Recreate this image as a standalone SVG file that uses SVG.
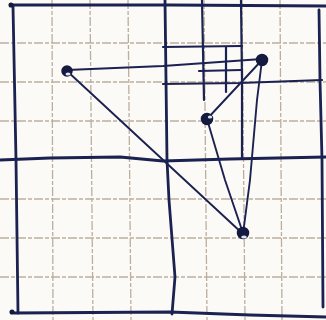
<svg xmlns="http://www.w3.org/2000/svg" width="326" height="320" viewBox="0 0 326 320">
  <style>
    .grid { stroke: #bcae9f; stroke-width: 1.3; fill: none; stroke-dasharray: 9 2 4 2; }
    .ink { stroke: #1b2150; stroke-width: 2.8; fill: none; stroke-linecap: round; stroke-linejoin: round; }
    .thin { stroke: #1b2150; stroke-width: 2.2; fill: none; stroke-linecap: round; stroke-linejoin: round; }
    .edge { stroke: #1b2150; stroke-width: 1.9; fill: none; stroke-linecap: round; }
    .dot { fill: #151a40; stroke: #151a40; stroke-width: 1.5; }
    .shine { fill: #dfe4f2; }
  </style>
  <rect width="326" height="320" fill="#fbfaf6"/>
  <g id="grid">
    <path class="grid" d="M52 0 L53 320 M90 0 L93 320 M128 0 L131 320 M204 0 L207 320 M242 0 L245 320 M280 0 L282 320"/>
    <path class="grid" d="M0 43 L326 43 M0 82 L326 82 M0 121 L326 121 M0 199 L326 199 M0 238 L326 238 M0 277 L326 277"/>
  </g>
  <g id="frame">
    <path class="ink" d="M11 5 L170 5 L326 6"/>
    <path class="ink" d="M13 6 L16 160 L18 313"/>
    <path class="ink" d="M319 10 L320 80 L322 160 L323 307"/>
    <path class="ink" d="M14 313 L170 312 L250 315 L326 317"/>
    <path class="ink" d="M165 0 L167 160 L169 200 L175 277 L172 314"/>
    <path class="ink" d="M0 160 L50 158 L120 157 L163 161 L230 159 L326 157"/>
    <circle cx="11" cy="5" r="1.8" class="dot"/>
    <circle cx="12" cy="312" r="1.8" class="dot"/>
  </g>
  <g id="inner">
    <path class="thin" d="M163 84 L240 83 L322 80"/>
    <path class="thin" d="M163 47 L242 46"/>
    <path class="thin" d="M202 0 L203 50 L204 100"/>
    <path class="thin" d="M241 0 L242 80 L242 158"/>
    <path class="thin" d="M226 47 L226 92"/>
    <path class="thin" d="M199 71 L241 70"/>
  </g>
  <g id="connectors">
    <path class="edge" d="M67 70 Q120 68 163 66 L262 59"/>
    <path class="edge" d="M262 60 L207 119"/>
    <path class="edge" d="M262 60 L257 100 L250 180 L243 234"/>
    <path class="edge" d="M207 119 L225 180 L243 233"/>
    <path class="edge" d="M67 71 L243 234"/>
  </g>
  <g id="nodeA">
    <circle cx="67" cy="71" r="5" class="dot"/>
    <ellipse cx="68" cy="74" rx="2.5" ry="1.5" class="shine"/>
  </g>
  <g id="nodeB">
    <circle cx="262" cy="60" r="5.5" class="dot"/>
  </g>
  <g id="nodeC">
    <circle cx="207" cy="119" r="5.5" class="dot"/>
    <ellipse cx="210" cy="117" rx="2.2" ry="1.6" class="shine"/>
  </g>
  <g id="nodeD">
    <circle cx="243" cy="233" r="5.5" class="dot"/>
    <ellipse cx="244" cy="237" rx="2.8" ry="1.6" class="shine"/>
  </g>
</svg>
